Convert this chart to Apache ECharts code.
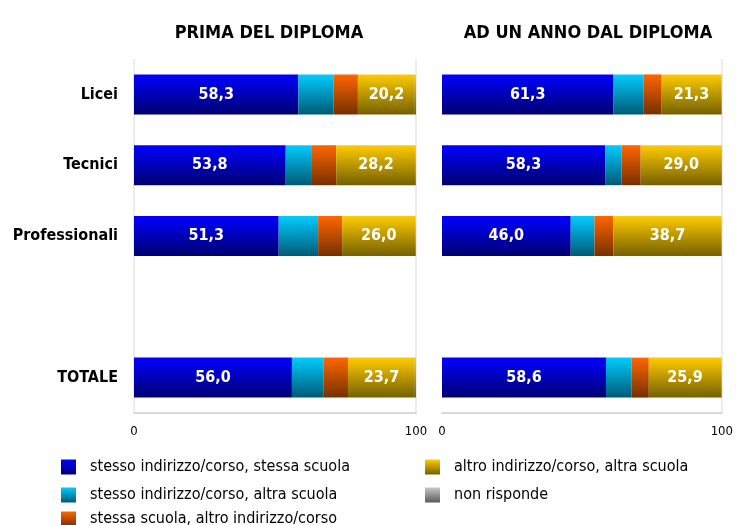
<!DOCTYPE html>
<html>
<head>
<meta charset="utf-8">
<script src="https://cdn.jsdelivr.net/npm/echarts@6/dist/echarts.min.js"></script>
<style>
  html, body { margin: 0; padding: 0; background: #fff; }
  #chart { width: 736px; height: 525px; }
</style>
</head>
<body>
<div id="chart"></div>
<script>
(function () {
  var myChart = echarts.init(document.getElementById('chart'));
  var FONT = 'DejaVu Sans Condensed';

  var categories = ['Licei', 'Tecnici', 'Professionali', '', 'TOTALE'];
  var seriesNames = [
    'stesso indirizzo/corso, stessa scuola',
    'stesso indirizzo/corso, altra scuola',
    'stessa scuola, altro indirizzo/corso',
    'altro indirizzo/corso, altra scuola',
    'non risponde'
  ];
  var xTicks = [0, 100];

  // prima del diploma
  var primaStessoStessa = [58.3, 53.8, 51.3, null, 56.0];
  var primaStessoAltra = [12.5, 9.3, 14.0, null, 11.3];
  var primaScuolaAltro = [8.6, 8.6, 8.5, null, 8.6];
  var primaAltroAltra = [20.2, 28.2, 26.0, null, 23.7];
  var primaNonRisponde = [0.4, 0.1, 0.2, null, 0.4];

  // ad un anno dal diploma
  var annoStessoStessa = [61.3, 58.3, 46.0, null, 58.6];
  var annoStessoAltra = [10.8, 5.8, 8.5, null, 9.2];
  var annoScuolaAltro = [6.4, 6.9, 6.7, null, 6.1];
  var annoAltroAltra = [21.3, 29.0, 38.7, null, 25.9];
  var annoNonRisponde = [0.2, 0.0, 0.1, null, 0.2];

  var colors = [
    ['#0000ff', '#000070'],
    ['#00ccff', '#005a75'],
    ['#ff6600', '#753000'],
    ['#ffcc00', '#756000'],
    ['#c8c8c8', '#5a5a5a']
  ];

  function grad(i) {
    return new echarts.graphic.LinearGradient(0, 0, 0, 1, [
      { offset: 0, color: colors[i][0] },
      { offset: 1, color: colors[i][1] }
    ]);
  }

  function fmt(p) {
    return p.value == null ? '' : Number(p.value).toFixed(1).replace('.', ',');
  }

  function makeSeries(gridIdx, arrays) {
    return arrays.map(function (arr, i) {
      return {
        name: seriesNames[i],
        type: 'bar',
        stack: 'g' + gridIdx,
        xAxisIndex: gridIdx,
        yAxisIndex: gridIdx,
        barWidth: 40,
        data: arr,
        itemStyle: { color: grad(i) },
        label: {
          show: i === 0 || i === 3,
          position: 'inside',
          color: '#fff',
          fontFamily: FONT,
          fontWeight: 'bold',
          fontSize: 16,
          formatter: fmt
        }
      };
    });
  }

  function xAxis(gridIdx) {
    return {
      type: 'value',
      gridIndex: gridIdx,
      min: 0,
      max: 100,
      interval: 100,
      axisTick: { show: false },
      axisLine: { show: true, lineStyle: { color: '#d9d9d9', width: 2 } },
      axisLabel: {
        color: '#000',
        fontFamily: FONT,
        fontSize: 13,
        margin: 12,
        formatter: function (v) { return xTicks.indexOf(v) >= 0 ? String(v) : ''; }
      },
      splitLine: {
        show: true,
        lineStyle: { color: gridIdx === 0 ? ['#e6e6e6', '#e6e6e6'] : ['rgba(0,0,0,0)', '#e6e6e6'], width: 1.5 }
      }
    };
  }

  function yAxis(gridIdx) {
    return {
      type: 'category',
      gridIndex: gridIdx,
      inverse: true,
      data: categories,
      axisTick: { show: false },
      axisLine: { show: false },
      axisLabel: {
        show: gridIdx === 0,
        color: '#000',
        fontFamily: FONT,
        fontWeight: 'bold',
        fontSize: 16,
        margin: 16
      }
    };
  }

  function legend(names, left, top) {
    return {
      data: names,
      orient: 'vertical',
      left: left,
      top: top,
      padding: 0,
      itemWidth: 15,
      itemHeight: 15,
      itemGap: 12,
      icon: 'rect',
      selectedMode: false,
      textStyle: { color: '#000', fontFamily: FONT, fontSize: 16, padding: [0, 0, 0, 9] }
    };
  }

  var option = {
    animation: false,
    title: [
      { text: 'PRIMA DEL DIPLOMA', left: 264, top: 19, textAlign: 'center',
        textStyle: { fontFamily: FONT, fontWeight: 'bold', fontSize: 18, color: '#000' } },
      { text: 'AD UN ANNO DAL DIPLOMA', left: 583, top: 19, textAlign: 'center',
        textStyle: { fontFamily: FONT, fontWeight: 'bold', fontSize: 18, color: '#000' } }
    ],
    grid: [
      { left: 134, right: 320, top: 59, bottom: 112 },
      { left: 442, right: 11, top: 59, bottom: 112 }
    ],
    xAxis: [xAxis(0), xAxis(1)],
    yAxis: [yAxis(0), yAxis(1)],
    legend: [
      legend(seriesNames.slice(0, 2), 61, 459),
      legend(seriesNames.slice(2, 3), 61, 511),
      legend(seriesNames.slice(3), 425, 459)
    ],
    series: makeSeries(0, [primaStessoStessa, primaStessoAltra, primaScuolaAltro, primaAltroAltra, primaNonRisponde])
      .concat(makeSeries(1, [annoStessoStessa, annoStessoAltra, annoScuolaAltro, annoAltroAltra, annoNonRisponde]))
  };

  myChart.setOption(option);
  window.addEventListener('resize', function () {
    myChart.resize();
  });
})();
</script>
</body>
</html>
